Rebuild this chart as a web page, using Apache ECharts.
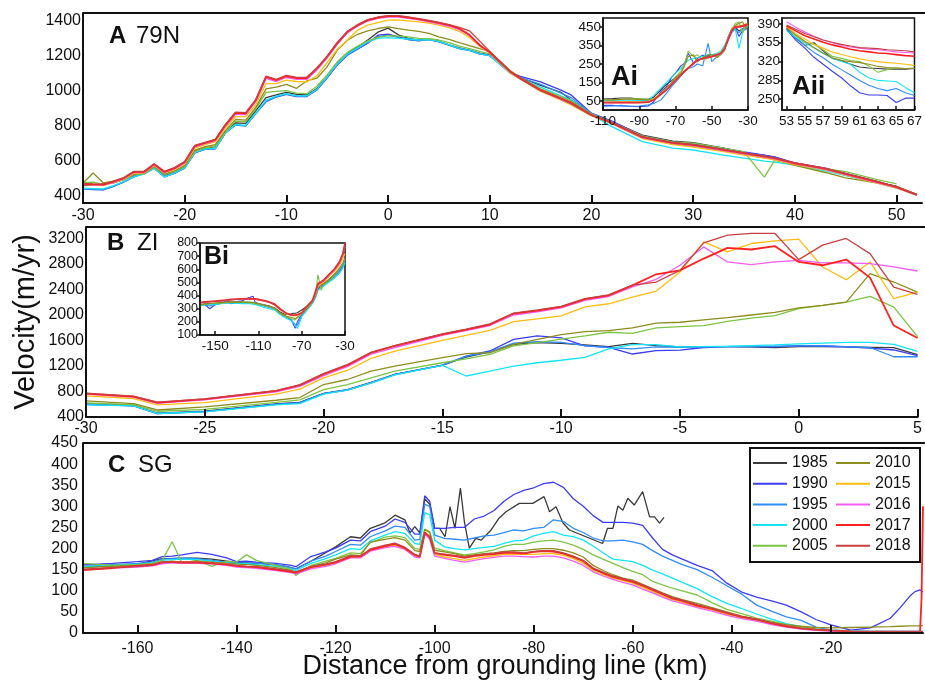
<!DOCTYPE html>
<html><head><meta charset="utf-8">
<script src="https://cdn.jsdelivr.net/npm/echarts@6/dist/echarts.min.js"></script>
<style>html,body{margin:0;padding:0;background:#fff}#c{width:925px;height:682px}</style>
</head><body><div id="c"></div>
<script>
// ---------------- DATA ----------------
const YEARS = ['1985','1990','1995','2000','2005','2010','2015','2016','2017','2018'];

// Panel A (79N)
const xA = [-30,-29,-28,-27,-26,-25,-24,-23,-22,-21,-20,-19,-18,-17,-16,-15,-14,-13,-12,-11,-10,-9,-8,-7,-6,-5,-4,-3,-2,-1,0,1,2,3,4,5,6,7,8,9,10,12,13,15,17,18,20,22,25,28,30,33,35,37,38,40,43,45,48,50,52];
const A_1985 = [455,458,465,470,490,515,528,562,515,532,563,652,670,678,765,815,812,885,960,975,990,978,975,1012,1080,1155,1212,1250,1290,1335,1358,1320,1300,1290,1295,1283,1262,1245,1232,1215,1205,1105,1075,1030,990,946,866,822,745,710,701,670,644,628,618,580,548,515,475,452,null];
const A_1990 = [436,432,430,450,475,505,525,555,505,525,555,643,663,665,756,802,797,870,936,963,978,966,966,1003,1071,1146,1203,1238,1272,1318,1324,1308,1293,1285,1293,1280,1260,1240,1230,1210,1200,1105,1082,1050,1003,975,870,825,740,705,692,668,648,630,620,585,555,525,480,448,403];
const A_1995 = [438,435,432,452,476,506,523,555,506,526,556,644,664,666,757,803,798,870,938,965,980,968,968,1005,1074,1150,1206,1240,1275,1310,1318,1305,1293,1286,1294,1281,1261,1241,1230,1210,1200,1102,1075,1035,985,960,868,820,735,700,690,662,643,625,614,580,548,520,476,445,401];
const A_2000 = [440,438,436,455,478,505,520,553,505,527,557,645,665,668,758,805,800,872,945,968,982,970,970,1008,1078,1153,1210,1245,1280,1300,1304,1300,1296,1290,1292,1282,1262,1242,1230,1212,1200,1100,1070,1020,970,945,862,793,707,670,659,630,613,595,590,573,540,512,470,440,400];
const A_2005 = [472,475,462,475,488,518,522,560,518,535,565,650,672,682,762,825,822,895,990,995,1000,985,982,1025,1090,1165,1220,1255,1285,1305,1315,1312,1308,1300,1298,1290,1275,1255,1240,1225,1210,1105,1072,1010,965,940,866,818,740,705,698,670,648,503,600,577,552,535,490,465,null];
const A_2010 = [470,527,470,480,490,522,525,565,522,540,570,659,678,690,770,835,830,905,1010,1020,1035,1013,1055,1071,1136,1232,1289,1323,1342,1356,1366,1355,1347,1340,1328,1308,1293,1275,1258,1240,1225,1115,1075,1005,955,935,862,810,730,695,680,655,635,615,605,571,530,499,470,450,405];
const A_2015 = [460,458,455,472,492,525,527,570,527,548,580,670,690,705,785,850,850,920,1040,1040,1060,1052,1050,1085,1160,1237,1290,1346,1375,1390,1404,1405,1400,1394,1387,1375,1361,1340,1305,1255,1215,1100,1065,995,945,918,855,810,725,690,675,650,630,612,603,575,545,515,470,440,400];
const A_2016 = [462,459,457,474,494,529,529,573,529,550,585,677,695,711,795,864,862,938,1070,1052,1075,1064,1064,1118,1186,1265,1331,1370,1399,1414,1422,1421,1414,1405,1394,1382,1369,1350,1316,1258,1216,1106,1067,1000,950,924,857,812,729,697,684,656,637,618,608,579,548,518,474,443,400];
const A_2017 = [465,462,460,478,498,534,534,578,534,555,590,683,700,717,802,872,870,946,1079,1060,1083,1072,1072,1127,1194,1272,1337,1375,1404,1419,1427,1427,1419,1410,1400,1388,1375,1356,1320,1262,1220,1110,1070,1003,955,928,860,816,733,700,688,660,641,622,612,583,552,522,478,446,402];
const A_2018 = [468,465,463,480,500,537,537,580,537,558,593,686,703,720,806,876,874,950,1083,1064,1087,1076,1076,1130,1197,1276,1340,1378,1407,1422,1430,1430,1422,1413,1403,1391,1378,1362,1343,1285,1225,1108,1068,1000,952,925,858,814,735,702,690,662,643,624,614,585,554,524,480,448,403];

// Panel B (ZI)
const xB = [-30,-28,-27,-25,-22,-21,-20,-19,-18,-17,-15,-14,-13,-12,-11,-10,-9,-8,-7,-6,-5,-4,-3,-2,-1,0,1,2,3,4,5];
const B_1985 = [605,580,460,490,605,628,770,828,945,1070,1215,1340,1420,1539,1566,1555,1530,1503,1555,1519,1500,1503,1505,1500,1490,1503,1510,1500,1493,1487,1380];
const B_1990 = [600,573,452,484,600,625,767,820,936,1067,1209,1356,1435,1618,1671,1640,1514,1493,1388,1440,1450,1490,1503,1503,1500,1519,1510,1500,1480,1451,1361];
const B_1995 = [600,578,455,485,598,620,765,825,940,1065,1212,1350,1420,1560,1580,1570,1520,1490,1470,1500,1493,1500,1503,1505,1510,1515,1520,1505,1490,1345,1345];
const B_2000 = [590,575,455,480,590,610,760,820,930,1060,1209,1043,1119,1199,1251,1290,1335,1467,1535,1535,1500,1505,1510,1520,1530,1546,1560,1571,1571,1540,1429];
const B_2005 = [620,595,490,520,630,670,830,909,1015,1119,1251,1310,1382,1514,1566,1620,1671,1729,1713,1797,1818,1834,1900,1950,1990,2100,2150,2201,2291,2123,1660];
const B_2010 = [652,610,510,558,663,705,909,988,1119,1199,1330,1393,1408,1539,1618,1692,1739,1755,1797,1871,1886,1924,1960,2000,2040,2110,2150,2201,2649,2517,2359];
const B_2015 = [731,690,589,627,760,837,1015,1130,1319,1435,1603,1680,1760,1897,1940,1987,2128,2176,2280,2375,2674,3147,2990,3121,3163,3189,2753,2554,2832,2255,2359];
const B_2016 = [760,712,615,668,795,880,1050,1190,1385,1490,1680,1755,1835,2000,2050,2110,2230,2290,2440,2560,2780,3068,2832,2790,2832,2858,2816,2816,2806,2753,2690];
const B_2017 = [767,720,625,679,810,900,1072,1214,1408,1514,1697,1770,1850,2023,2070,2128,2249,2307,2464,2638,2700,2885,3052,3027,3079,2832,2780,2869,2586,1834,1640];
const B_2018 = [775,728,632,685,815,905,1080,1220,1415,1520,1705,1780,1860,2030,2080,2135,2255,2315,2470,2517,2700,3131,3252,3279,3279,2869,3095,3200,2963,2438,2322];

// Panel C (SG)
const xC = [-171,-165,-160,-157,-155,-153,-151,-148,-145,-142,-140,-138,-136,-132,-129,-128,-125,-122,-120,-117,-115,-113,-110,-108,-106,-104,-103,-102,-101,-100,
  -98,-96,-94,-92,-90,-88,-86,-84,-82,-80,-78,-76,-74,-72,-70,-68,-66,-64,-62,-60,-58,-56,-54,-52,-50,
  -47,-44,-41,-38,-35,-32,-29,-26,-23,-20,
  -16,-12,-8,-6,-4,-3,-2,-1.7,-1.4];
const C_1985_X = [-171,-165,-160,-155,-150,-148,-145,-140,-135,-130,-128,-125,-120,-117,-115,-113,-110,-108,-106,-105,-104,-103,-102,-101,-100,-99,-97.9,-96.9,-95.9,-94.8,-94,-93,-91.7,-90.6,-88.6,-87,-85.6,-82.9,-80.2,-77.9,-76.8,-75.5,-74.1,-72.8,-66.1,-65.1,-64,-63,-62,-61,-59.7,-58,-56.6,-55.6,-54.6,-53.7];
const C_1985 = [155,160,163,176,177,177,175,167,165,158,152,170,204,228,225,248,261,279,268,237,252,237,318,305,248,248,228,299,248,343,264,201,224,220,244,272,287,307,307,323,287,299,261,244,212,248,248,301,291,319,303,335,275,275,260,274];
const C_1990 = [161,165,169,172,181,182,185,191,186,178,169,170,168,165,160,157,181,192,201,220,218,240,253,270,262,234,234,325,312,248,
  248,250,250,270,277,290,312,328,338,344,354,357,345,318,300,278,262,262,262,260,255,225,198,185,175,
  160,148,118,97,85,76,66,50,32,19,
  7,12,35,60,88,98,102,100,97];
const C_1995 = [158,162,165,168,175,176,177,176,172,168,166,166,165,162,155,152,170,182,193,210,208,228,242,253,250,220,222,305,300,232,
  224,222,220,225,230,232,238,244,242,248,250,268,264,248,238,225,218,218,220,216,210,195,182,172,162,
  150,132,112,92,66,52,38,30,14,7,
  5,4,4,4,4,4,4,4,4];
const C_2000 = [157,160,163,166,172,174,175,174,170,166,164,164,162,158,152,148,165,176,185,200,198,218,232,240,236,212,210,285,280,220,
  204,200,197,200,203,205,212,218,220,230,236,240,232,228,220,206,190,175,172,169,160,149,140,130,120,
  105,86,70,58,45,33,22,15,10,7,
  5,4,4,4,4,4,4,4,4];
const C_2005 = [165,160,162,165,172,216,165,172,158,170,168,185,172,160,150,136,160,170,177,190,188,214,227,230,226,200,198,246,240,201,
  195,190,185,188,192,197,205,210,210,215,218,220,215,208,198,185,175,165,155,146,138,122,114,106,100,
  90,72,56,46,35,28,20,13,9,5,
  4,3,3,3,3,3,3,3,3];
const C_2010 = [155,158,160,163,168,170,168,170,168,165,163,162,160,155,148,144,158,166,175,185,183,215,222,226,220,195,193,245,238,196,
  192,188,182,185,188,190,193,195,195,198,200,200,196,190,180,160,148,138,130,125,115,105,95,86,79,
  70,60,50,40,33,26,20,16,13,12,
  13,14,15,16,17,17,17,18,18];
const C_2015 = [150,155,157,160,166,168,167,168,166,163,158,157,155,150,145,142,154,160,166,180,180,196,204,208,200,184,180,240,226,186,
  180,176,172,176,180,183,186,187,186,186,188,188,184,176,165,148,138,130,124,118,108,98,88,79,73,
  62,55,45,36,30,22,15,10,7,5,
  3,3,3,3,3,3,3,3,3];
const C_2016 = [150,154,156,159,164,166,165,165,164,160,156,155,153,148,143,140,152,158,164,178,178,194,202,205,198,180,178,235,222,182,
  177,172,168,172,176,179,182,182,181,180,182,182,178,170,160,145,135,127,120,114,104,95,85,76,70,
  60,52,42,34,28,20,14,9,6,4,
  3,3,3,3,3,3,3,3,3];
const C_2017 = [149,154,159,161,168,168,167,167,165,162,159,157,156,150,145,143,156,162,167,181,181,197,206,211,201,185,181,238,228,189,
  185,182,178,182,185,187,190,190,188,192,194,193,188,180,170,152,142,133,127,121,112,102,92,82,76,
  65,57,47,38,32,23,16,11,8,6,
  4,3,3,3,3,3,3,80,300];
const C_2018 = [151,155,158,161,167,168,168,168,166,163,160,158,157,152,147,145,157,163,169,183,182,199,208,213,203,186,182,236,228,190,
  187,184,180,184,187,189,192,192,190,193,195,195,190,182,172,154,144,135,129,123,114,104,94,84,78,
  67,58,48,39,32,24,17,11,8,6,
  4,3,3,3,3,3,3,3,3];

// Inset Ai
const xAi = [-110,-105,-100,-95,-90,-85,-82,-78,-75,-72,-70,-67,-65,-63,-60,-58,-55,-52,-50,-47,-45,-43,-41,-39,-37,-35,-33,-31,-30];
const Ai_1985 = [60,62,65,65,60,58,70,110,140,160,175,200,208,230,250,270,280,295,300,300,310,340,390,440,450,430,440,455,460];
const Ai_1990 = [25,25,22,20,18,22,45,100,127,180,200,240,254,308,254,280,298,290,295,300,310,340,395,440,450,400,430,440,445];
const Ai_1995 = [20,22,25,20,22,28,35,55,90,130,150,185,208,225,235,250,240,362,263,290,300,330,380,420,440,420,440,450,450];
const Ai_2000 = [50,52,50,50,52,52,80,120,150,180,200,225,250,270,280,285,290,300,300,310,320,350,390,430,440,335,420,450,455];
const Ai_2005 = [58,56,58,60,62,58,60,85,115,150,180,210,250,320,290,300,275,280,300,290,300,320,380,440,470,478,420,470,470];
const Ai_2010 = [55,55,58,60,58,55,60,90,120,150,175,200,240,290,300,260,285,300,300,285,305,330,390,430,460,470,480,440,460];
const Ai_2015 = [42,43,44,44,45,46,58,90,112,145,165,195,215,230,258,272,282,288,293,303,312,336,388,440,456,458,462,468,472];
const Ai_2016 = [40,40,40,40,41,43,54,84,107,138,158,188,208,225,253,268,279,285,289,298,306,328,378,428,450,450,453,459,462];
const Ai_2017 = [40,40,40,40,40,42,55,85,109,140,160,190,210,227,255,270,280,286,290,300,308,330,380,430,452,452,455,461,465];
const Ai_2018 = [42,42,42,42,42,44,56,87,110,142,162,192,212,228,256,270,281,287,292,302,310,333,385,435,455,455,460,466,470];

// Inset Aii
const xAii = [53,54,55,56,57,58,59,60,61,62,63,64,65,66,67];
const Aii_1985 = [382,364,350,355,340,326,322,315,310,308,307,306,306,306,307];
const Aii_1990 = [380,360,345,328,315,302,290,275,262,258,258,257,244,252,252];
const Aii_1995 = [380,363,350,337,327,315,305,295,285,276,270,266,270,262,257];
const Aii_2000 = [377,365,355,345,335,326,320,315,300,290,285,284,283,272,262];
const Aii_2005 = [386,368,356,352,342,330,326,322,320,312,300,305,308,307,308];
const Aii_2010 = [384,370,358,346,336,327,322,320,318,315,311,309,308,307,307];
const Aii_2015 = [385,372,362,352,345,338,333,329,325,322,320,318,317,315,313];
const Aii_2016 = [394,384,375,367,360,355,350,347,345,343,342,340,338,337,336];
const Aii_2017 = [386,377,368,362,356,351,347,343,340,338,336,335,333,331,330];
const Aii_2018 = [388,380,372,366,360,356,352,349,346,345,344,342,341,340,338];

// Inset Bi
const xBi = [-164,-160,-155,-150,-145,-140,-135,-130,-125,-120,-115,-113,-110,-105,-100,-95,-90,-85,-80,-78,-76,-74,-72,-70,-65,-60,-57,-55,-52,-50,-45,-40,-35,-32,-30];
const Bi_1985 = [330,335,340,340,345,345,350,350,348,345,342,340,335,325,318,305,275,255,260,265,265,270,280,290,320,360,420,470,480,490,520,560,600,620,640];
const Bi_1990 = [330,335,300,330,340,360,345,355,360,380,395,350,340,330,320,300,265,240,220,185,151,200,230,250,300,345,400,450,470,480,510,545,590,630,670];
const Bi_1995 = [325,330,320,335,340,350,338,345,342,350,345,340,330,320,310,295,260,240,215,200,180,175,210,245,295,345,395,445,460,475,505,540,580,620,660];
const Bi_2000 = [320,328,335,330,338,340,345,342,338,340,335,330,325,310,300,290,255,230,210,195,170,150,190,240,290,340,390,440,460,470,500,530,570,610,650];
const Bi_2005 = [325,332,338,340,342,345,348,350,348,345,340,338,335,325,315,300,265,240,225,220,215,230,248,258,305,355,420,560,440,480,510,550,600,640,680];
const Bi_2010 = [330,335,340,345,345,350,352,350,352,350,348,345,340,330,320,305,270,245,235,230,225,235,250,260,300,350,400,460,480,490,520,560,610,650,690];
const Bi_2015 = [345,348,352,356,358,362,366,370,372,374,372,370,366,358,348,326,292,262,248,245,246,250,256,264,312,358,420,470,490,500,540,580,630,680,720];
const Bi_2016 = [342,348,352,355,358,362,366,370,372,374,372,370,366,358,348,328,294,265,250,248,248,252,258,266,315,360,425,480,498,508,550,590,645,700,770];
const Bi_2017 = [345,352,355,358,362,365,371,374,376,378,376,376,371,362,352,335,300,270,255,252,252,255,262,270,320,365,440,492,505,517,560,600,660,720,800];
const Bi_2018 = [348,350,354,357,360,364,368,372,374,375,374,372,368,360,350,330,296,268,255,250,250,254,260,268,318,362,430,485,500,512,555,595,650,710,780];

// tick labels
const ticksAx = [-30,-20,-10,0,10,20,30,40,50];
const ticksAy = [400,600,800,1000,1200,1400];
const ticksBx = [-30,-25,-20,-15,-10,-5,0,5];
const ticksBy = [400,800,1200,1600,2000,2400,2800,3200];
const ticksCx = [-160,-140,-120,-100,-80,-60,-40,-20];
const ticksCy = [0,50,100,150,200,250,300,350,400,450];
const ticksAix = [-110,-90,-70,-50,-30];
const ticksAiy = [50,150,250,350,450];
const ticksAiix = [53,55,57,59,61,63,65,67];
const ticksAiiy = [250,285,320,355,390];
const ticksBix = [-150,-110,-70,-30];
const ticksBiy = [100,200,300,400,500,600,700,800];

// ---------------- STYLE ----------------
const COLORS = {'1985':'#3a3a3a','1990':'#3c3cf2','1995':'#2f8cf5','2000':'#14e4f5','2005':'#7ec444',
  '2010':'#8d8d1e','2015':'#ffbd10','2016':'#f45cf4','2017':'#ff2020','2018':'#c94040'};
const FONT = 'Liberation Sans, Arial, Helvetica, sans-serif';
const plain = v => String(v);

function pairs(xs, ys){ return xs.map((x,i)=>[x, ys[i]]); }

const panels = [
  {g:0, x:xA, z:2, w:1.3, d:{'1985':A_1985,'1990':A_1990,'1995':A_1995,'2000':A_2000,'2005':A_2005,'2010':A_2010,'2015':A_2015,'2016':A_2016,'2017':A_2017,'2018':A_2018}},
  {g:1, x:xB, z:2, w:1.3, d:{'1985':B_1985,'1990':B_1990,'1995':B_1995,'2000':B_2000,'2005':B_2005,'2010':B_2010,'2015':B_2015,'2016':B_2016,'2017':B_2017,'2018':B_2018}},
  {g:2, x:xC, z:2, w:1.3, d:{'1985':C_1985,'1990':C_1990,'1995':C_1995,'2000':C_2000,'2005':C_2005,'2010':C_2010,'2015':C_2015,'2016':C_2016,'2017':C_2017,'2018':C_2018}, xs:{'1985':C_1985_X}},
  {g:3, x:xAi, z:7, w:1.1, d:{'1985':Ai_1985,'1990':Ai_1990,'1995':Ai_1995,'2000':Ai_2000,'2005':Ai_2005,'2010':Ai_2010,'2015':Ai_2015,'2016':Ai_2016,'2017':Ai_2017,'2018':Ai_2018}},
  {g:4, x:xAii, z:7, w:1.1, d:{'1985':Aii_1985,'1990':Aii_1990,'1995':Aii_1995,'2000':Aii_2000,'2005':Aii_2005,'2010':Aii_2010,'2015':Aii_2015,'2016':Aii_2016,'2017':Aii_2017,'2018':Aii_2018}},
  {g:5, x:xBi, z:7, w:1.1, d:{'1985':Bi_1985,'1990':Bi_1990,'1995':Bi_1995,'2000':Bi_2000,'2005':Bi_2005,'2010':Bi_2010,'2015':Bi_2015,'2016':Bi_2016,'2017':Bi_2017,'2018':Bi_2018}}
];

const series = [];
panels.forEach(p=>{
  YEARS.forEach(yr=>{
    const xs = (p.xs && p.xs[yr]) ? p.xs[yr] : p.x;
    const lw = (yr==='2017') ? p.w+0.5 : p.w;
    series.push({type:'line', name:yr, xAxisIndex:p.g, yAxisIndex:p.g, data:pairs(xs, p.d[yr]),
      symbol:'none', showSymbol:false, connectNulls:false, z:p.z, silent:true, animation:false,
      lineStyle:{color:COLORS[yr], width:lw}, itemStyle:{color:COLORS[yr]}});
  });
});

function xAx(g, min, max, vals, o){
  return {type:'value', gridIndex:g, min:min, max:max, z:o.z,
    axisLine:{show:true, onZero:false, lineStyle:{color:'#111', width:o.lw}},
    axisTick:{show:true, inside:true, length:o.tl, customValues:vals, lineStyle:{color:'#111', width:o.lw}},
    axisLabel:{customValues:vals, fontSize:o.fs, color:'#111', margin:o.m, fontFamily:FONT, formatter:plain,
      showMinLabel:true, showMaxLabel:true, hideOverlap:false},
    splitLine:{show:false}};
}
function yAx(g, min, max, vals, o){
  return {type:'value', gridIndex:g, min:min, max:max, z:o.z,
    axisLine:{show:true, onZero:false, lineStyle:{color:'#111', width:o.lw}},
    axisTick:{show:o.tl>0, inside:false, length:o.tl, customValues:vals, lineStyle:{color:'#111', width:o.lw}},
    axisLabel:{customValues:vals, fontSize:o.fs, color:'#111', margin:o.m, fontFamily:FONT, formatter:plain,
      showMinLabel:true, showMaxLabel:true, hideOverlap:false},
    splitLine:{show:false}};
}

const insetGrid = {show:true, backgroundColor:'#fff', borderColor:'#111', borderWidth:1.5, z:6};
const legendBase = {top:455, orient:'vertical', padding:0, itemWidth:34, itemHeight:2, itemGap:4.7, icon:'rect',
  selectedMode:false, textStyle:{fontSize:16, color:'#111', fontFamily:FONT}, z:5};

const option = {
  animation:false,
  backgroundColor:'#fff',
  textStyle:{fontFamily:FONT},
  grid:[
    {left:83, top:13, width:839, height:190},
    {left:86, top:227, width:833, height:190},
    {left:83, top:443, width:840, height:190},
    Object.assign({left:603, top:18, width:145, height:92}, insetGrid),
    Object.assign({left:782, top:18, width:140, height:92}, insetGrid),
    Object.assign({left:200, top:243, width:145, height:92}, insetGrid)
  ],
  xAxis:[
    xAx(0, -30, 52.5, ticksAx, {z:3, lw:2, tl:8, fs:16, m:5}),
    xAx(1, -30, 5, ticksBx, {z:3, lw:2, tl:8, fs:16, m:4}),
    xAx(2, -171, -1.4, ticksCx, {z:3, lw:2, tl:8, fs:16, m:8}),
    xAx(3, -110, -30, ticksAix, {z:8, lw:1.5, tl:4, fs:13.5, m:4}),
    xAx(4, 52.5, 67, ticksAiix, {z:8, lw:1.5, tl:4, fs:13.5, m:4}),
    xAx(5, -164, -30, ticksBix, {z:8, lw:1.5, tl:4, fs:13.5, m:4})
  ],
  yAxis:[
    yAx(0, 355, 1445, ticksAy, {z:3, lw:2, tl:0, fs:16, m:2}),
    yAx(1, 400, 3380, ticksBy, {z:3, lw:2, tl:0, fs:16, m:2}),
    yAx(2, 0, 450, ticksCy, {z:3, lw:2, tl:0, fs:16, m:5}),
    yAx(3, 0, 500, ticksAiy, {z:8, lw:1.5, tl:3, fs:13.5, m:2}),
    yAx(4, 230, 401, ticksAiiy, {z:8, lw:1.5, tl:3, fs:13.5, m:2}),
    yAx(5, 100, 800, ticksBiy, {z:8, lw:1.5, tl:3, fs:12.5, m:2})
  ],
  legend:[
    Object.assign({data:YEARS.slice(0,5), left:753}, legendBase),
    Object.assign({data:YEARS.slice(5), left:836}, legendBase)
  ],
  graphic:[
    {type:'line', z:5, shape:{x1:83, y1:13, x2:925, y2:13}, style:{stroke:'#111', lineWidth:2}},
    {type:'line', z:5, shape:{x1:86, y1:227, x2:925, y2:227}, style:{stroke:'#111', lineWidth:2}},
    {type:'line', z:5, shape:{x1:83, y1:443, x2:925, y2:443}, style:{stroke:'#111', lineWidth:2}},
    {type:'rect', z:4, shape:{x:750, y:448, width:170, height:114}, style:{fill:'#fff', stroke:'#111', lineWidth:2}},
    {type:'text', z:10, x:109, y:36, style:{text:'A', fontSize:24, fontWeight:'bold', fontFamily:FONT, fill:'#111', textAlign:'left', textVerticalAlign:'middle'}},
    {type:'text', z:10, x:136, y:36, style:{text:'79N', fontSize:24, fontFamily:FONT, fill:'#111', textAlign:'left', textVerticalAlign:'middle'}},
    {type:'text', z:10, x:107, y:243, style:{text:'B', fontSize:24, fontWeight:'bold', fontFamily:FONT, fill:'#111', textAlign:'left', textVerticalAlign:'middle'}},
    {type:'text', z:10, x:137, y:243, style:{text:'ZI', fontSize:24, fontFamily:FONT, fill:'#111', textAlign:'left', textVerticalAlign:'middle'}},
    {type:'text', z:10, x:108, y:465, style:{text:'C', fontSize:24, fontWeight:'bold', fontFamily:FONT, fill:'#111', textAlign:'left', textVerticalAlign:'middle'}},
    {type:'text', z:10, x:138, y:465, style:{text:'SG', fontSize:24, fontFamily:FONT, fill:'#111', textAlign:'left', textVerticalAlign:'middle'}},
    {type:'text', z:10, x:611, y:78, style:{text:'Ai', fontSize:27, fontWeight:'bold', fontFamily:FONT, fill:'#111', textAlign:'left', textVerticalAlign:'middle'}},
    {type:'text', z:10, x:792, y:87, style:{text:'Aii', fontSize:26, fontWeight:'bold', fontFamily:FONT, fill:'#111', textAlign:'left', textVerticalAlign:'middle'}},
    {type:'text', z:10, x:204, y:257, style:{text:'Bi', fontSize:25, fontWeight:'bold', fontFamily:FONT, fill:'#111', textAlign:'left', textVerticalAlign:'middle'}},
    {type:'text', z:10, x:26, y:322, rotation:Math.PI/2, style:{text:'Velocity(m/yr)', fontSize:29, fontFamily:FONT, fill:'#111', textAlign:'center', textVerticalAlign:'middle'}},
    {type:'text', z:10, x:505, y:667, style:{text:'Distance from grounding line (km)', fontSize:27, fontFamily:FONT, fill:'#111', textAlign:'center', textVerticalAlign:'middle'}}
  ],
  series:series
};

const chart = echarts.init(document.getElementById('c'), null, {renderer:'canvas'});
chart.setOption(option);
</script></body></html>
